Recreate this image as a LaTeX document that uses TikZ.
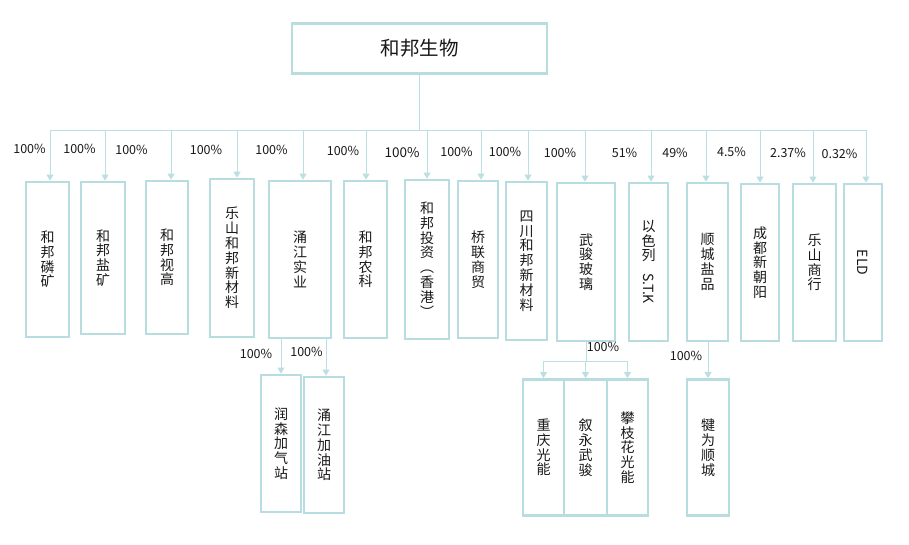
\documentclass[tikz,border=0pt]{standalone}
\usepackage{fontspec}
\setmainfont{Noto Sans CJK SC}
\usetikzlibrary{arrows.meta}
\definecolor{boxc}{RGB}{183,221,224}
\definecolor{linec}{RGB}{188,223,227}
\definecolor{txt}{RGB}{25,25,25}
\begin{document}
\begin{tikzpicture}[x=1pt,y=-1pt,
  box/.style={draw=boxc,line width=2.8pt,fill=white,inner sep=0pt,align=center,text=txt,font=\fontsize{14}{14.8}\selectfont},
  pct/.style={font=\fontsize{12.5}{14}\selectfont,text=txt,inner sep=0pt},
  arr/.style={draw=linec,line width=1pt,-{Triangle[width=7pt,length=6pt]}},
  ln/.style={draw=linec,line width=1pt}]
\useasboundingbox[fill=white] (0,0) rectangle (909,544);

% top
\node[box,minimum width=255pt,minimum height=50pt,font=\fontsize{19.5}{22}\selectfont] (top) at (419.5,48.5) {和邦生物};

% level 1
\node[box,minimum width=43pt,minimum height=155pt] (b1) at (47.5,259.5) {和\\邦\\磷\\矿};
\node[box,minimum width=44pt,minimum height=152pt] (b2) at (103,258) {和\\邦\\盐\\矿};
\node[box,minimum width=42pt,minimum height=153pt] (b3) at (167,257.5) {和\\邦\\视\\高};
\node[box,minimum width=44pt,minimum height=158pt] (b4) at (232,258) {乐\\山\\和\\邦\\新\\材\\料};
\node[box,minimum width=62pt,minimum height=157pt] (b5) at (300,259.5) {涌\\江\\实\\业};
\node[box,minimum width=43pt,minimum height=157pt] (b6) at (365.5,259.5) {和\\邦\\农\\科};
\node[box,minimum width=44pt,minimum height=159pt] (b7) at (427,259.5) {和\\邦\\投\\资\\︵\\香\\港\\︶};
\node[box,minimum width=40pt,minimum height=157pt] (b8) at (478,259.5) {桥\\联\\商\\贸};
\node[box,minimum width=41pt,minimum height=158pt] (b9) at (526.5,261) {四\\川\\和\\邦\\新\\材\\料};
\node[box,minimum width=58pt,minimum height=158pt] (b10) at (586,262) {武\\骏\\玻\\璃};
\node[box,minimum width=39pt,minimum height=158pt] (b11) at (648.5,262) {以\\色\\列\\[-2pt]\rotatebox{-90}{S.T.K}};
\node[box,minimum width=41pt,minimum height=158pt] (b12) at (707.5,262) {顺\\城\\盐\\品};
\node[box,minimum width=38pt,minimum height=157pt] (b13) at (760,262.5) {成\\都\\新\\朝\\阳};
\node[box,minimum width=43pt,minimum height=157pt] (b14) at (814.5,262.5) {乐\\山\\商\\行};
\node[box,minimum width=38pt,minimum height=157pt] (b15) at (863,262.5) {\rotatebox{-90}{ELD}};

% level 2
\node[box,minimum width=40pt,minimum height=137pt] (c1) at (281,443.5) {润\\森\\加\\气\\站};
\node[box,minimum width=40pt,minimum height=136pt] (c2) at (324,445) {涌\\江\\加\\油\\站};
\node[box,minimum width=41pt,minimum height=136pt] (d1) at (543.5,447.5) {重\\庆\\光\\能};
\node[box,minimum width=43pt,minimum height=136pt] (d2) at (585.5,447.5) {叙\\永\\武\\骏};
\node[box,minimum width=41pt,minimum height=136pt] (d3) at (627.5,447.5) {攀\\枝\\花\\光\\能};
\node[box,minimum width=42pt,minimum height=136pt] (e1) at (708,447.5) {犍\\为\\顺\\城};

% connectors level 1
\coordinate (busL) at (50,130);
\coordinate (busR) at (866,130);
\draw[ln] (top.south) -- (top.south |- busL);
\draw[ln] (busL) -- (busR);
\foreach \n/\d in {b1/2.5,b2/2,b3/4,b4/5,b5/3,b6/0.5,b7/0,b8/3,b9/1.5,b10/-1,b11/2.5,b12/-1.5,b13/0,b14/-1.5,b15/3}{
  \path (\n.north) ++(\d,0) coordinate (t\n);
  \draw[arr] (t\n |- busL) -- (t\n);
}

% connectors level 2
\draw[arr] (c1.north |- b5.south) -- (c1.north);
\path (c2.north) ++(2,0) coordinate (tc2);
\draw[arr] (tc2 |- b5.south) -- (tc2);
\coordinate (wjbus) at (0,361);
\draw[ln] (b10.south) -- (b10.south |- wjbus);
\draw[ln] (d1.north |- wjbus) -- (d3.north |- wjbus);
\foreach \n in {d1,d2,d3}{\draw[arr] (\n.north |- wjbus) -- (\n.north);}
\draw[arr] (e1.north |- b12.south) -- (e1.north);

% labels
\node[pct] at (29.5,149) {100\%};
\node[pct] at (79.5,149) {100\%};
\node[pct] at (131.5,149.5) {100\%};
\node[pct] at (206,149.5) {100\%};
\node[pct] at (271.5,149.5) {100\%};
\node[pct] at (343,150.5) {100\%};
\node[pct,font=\fontsize{13.5}{15}\selectfont] at (402,152.5) {100\%};
\node[pct] at (456.5,151.5) {100\%};
\node[pct] at (505,151.5) {100\%};
\node[pct] at (560,153) {100\%};
\node[pct] at (624.5,152.5) {51\%};
\node[pct] at (675,153) {49\%};
\node[pct] at (731.5,152) {4.5\%};
\node[pct] at (788,153) {2.37\%};
\node[pct] at (839.5,154) {0.32\%};
\node[pct] at (256,354) {100\%};
\node[pct] at (306.5,352) {100\%};
\node[pct] at (603,347) {100\%};
\node[pct] at (686,356) {100\%};
\end{tikzpicture}
\end{document}
